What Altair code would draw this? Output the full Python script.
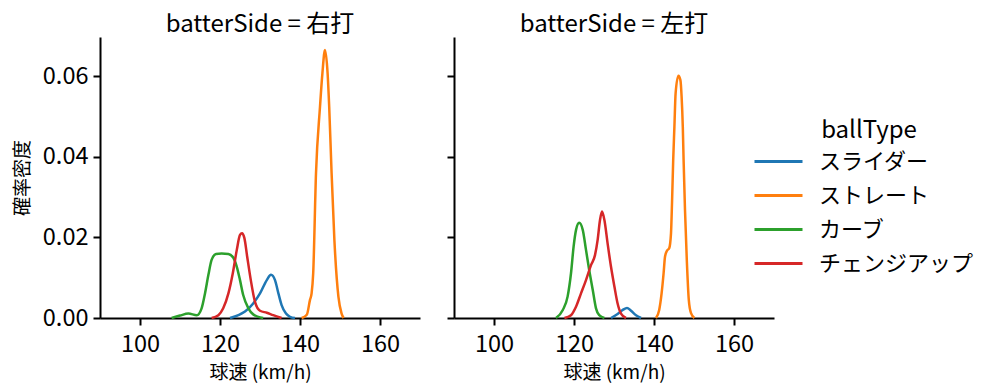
import altair as alt
import pandas as pd

FONT = "Noto Sans CJK JP"
TYPES = ["スライダー", "ストレート", "カーブ", "チェンジアップ"]
COLORS = ["#1f77b4", "#ff7f0e", "#2ca02c", "#d62728"]
SIDES = ["右打", "左打"]

# ---- 右打 (right-handed batters) ----
R_slider_x = [122.5, 124.6, 126.25, 128.3, 130.0, 131.7, 132.75, 133.75, 134.6, 135.4, 136.5, 137.5, 138.75]
R_slider_y = [0.0, 0.0007, 0.0016, 0.0036, 0.0061, 0.0094, 0.0107, 0.0094, 0.0061, 0.0032, 0.0011, 0.0003, 0.0]
R_straight_x = [140.4, 141.7, 142.5, 142.9, 143.3, 144.0, 145.0, 145.6, 146.25, 146.9, 147.3, 147.9, 148.6, 149.6, 150.4, 150.9]
R_straight_y = [0.0, 0.0008, 0.0045, 0.0061, 0.0111, 0.0359, 0.0524, 0.0607, 0.0665, 0.0607, 0.0524, 0.0359, 0.0193, 0.0053, 0.0011, 0.0]
R_curve_x = [107.9, 110.0, 112.1, 114.2, 115.4, 116.25, 117.1, 117.9, 119.0, 120.4, 122.1, 123.3, 124.2, 125.0, 125.8, 127.1, 128.3, 130.8]
R_curve_y = [0.0, 0.0006, 0.0011, 0.0007, 0.0024, 0.0061, 0.0107, 0.0144, 0.0159, 0.0160, 0.0159, 0.0150, 0.0127, 0.0094, 0.0057, 0.0024, 0.0009, 0.0]
R_change_x = [117.9, 119.6, 120.8, 122.1, 123.2, 124.2, 125.0, 125.5, 126.1, 126.8, 127.7, 128.75, 130.0, 131.7, 133.3, 135.4]
R_change_y = [0.0, 0.0007, 0.0024, 0.0061, 0.0111, 0.0169, 0.0206, 0.0210, 0.0198, 0.0152, 0.0094, 0.0040, 0.0018, 0.0013, 0.0007, 0.0]

# ---- 左打 (left-handed batters) ----
L_slider_x = [129.25, 130.9, 132.2, 133.25, 134.25, 135.5, 136.75]
L_slider_y = [0.0, 0.0010, 0.0020, 0.0025, 0.0018, 0.0007, 0.0]
L_straight_x = [140.5, 141.3, 141.9, 142.4, 142.75, 143.25, 143.8, 144.25, 144.5, 144.8, 145.1, 145.4, 146.1, 146.6, 146.9, 147.2, 147.4, 147.75, 148.2, 148.7, 149.25, 150.1]
L_straight_y = [0.0, 0.0020, 0.0061, 0.0111, 0.0152, 0.0167, 0.0173, 0.0210, 0.0284, 0.0392, 0.0474, 0.0557, 0.0601, 0.0590, 0.0549, 0.0474, 0.0392, 0.0268, 0.0144, 0.0045, 0.0012, 0.0]
L_curve_x = [115.5, 117.2, 118.4, 119.25, 119.9, 120.5, 121.3, 122.2, 123.0, 123.8, 124.7, 125.5, 126.3, 127.6]
L_curve_y = [0.0, 0.0020, 0.0053, 0.0111, 0.0177, 0.0218, 0.0236, 0.0218, 0.0169, 0.0119, 0.0069, 0.0024, 0.0007, 0.0]
L_change_x = [117.6, 119.25, 120.5, 121.75, 123.0, 124.25, 125.25, 125.9, 126.5, 127.0, 127.6, 128.4, 129.25, 130.1, 130.9, 131.75, 133.0]
L_change_y = [0.0, 0.0007, 0.0028, 0.0061, 0.0094, 0.0131, 0.0156, 0.0193, 0.0243, 0.0264, 0.0243, 0.0185, 0.0127, 0.0078, 0.0036, 0.0011, 0.0]

series = {
    "右打": [(R_slider_x, R_slider_y), (R_straight_x, R_straight_y), (R_curve_x, R_curve_y), (R_change_x, R_change_y)],
    "左打": [(L_slider_x, L_slider_y), (L_straight_x, L_straight_y), (L_curve_x, L_curve_y), (L_change_x, L_change_y)],
}

rows = []
for side, lst in series.items():
    for t, (xs, ys) in zip(TYPES, lst):
        for i, (x, y) in enumerate(zip(xs, ys)):
            rows.append({"batterSide": side, "ballType": t, "speed": x, "density": y, "i": i})
df = pd.DataFrame(rows)

color = alt.Color(
    "ballType:N",
    scale=alt.Scale(domain=TYPES, range=COLORS),
    legend=alt.Legend(
        title="ballType",
        orient="none",
        legendX=665,
        legendY=82,
        symbolType="M-2,0H2",
        symbolSize=576,
        symbolStrokeWidth=3,
        labelFontSize=22,
        titleFontSize=24,
        titleFontWeight="normal",
        titleAnchor="middle",
        titlePadding=5,
        labelOffset=27,
        rowPadding=9,
        labelFont=FONT,
        titleFont=FONT,
        labelColor="black",
        titleColor="black",
    ),
)


def panel(side, first):
    yaxis = alt.Axis(
        values=[0, 0.02, 0.04, 0.06],
        format=".2f",
        title="確率密度" if first else None,
        labels=first,
        titlePadding=10,
        labelPadding=5,
    )
    return (
        alt.Chart(df[df.batterSide == side], title=alt.TitleParams(
            f"batterSide = {side}", fontSize=24, fontWeight="normal", font=FONT,
            anchor="middle", color="black", offset=0))
        .mark_line(strokeWidth=2.5, interpolate="monotone")
        .encode(
            x=alt.X("speed:Q", scale=alt.Scale(domain=[90, 170], nice=False, zero=False),
                    axis=alt.Axis(values=[100, 120, 140, 160], title="球速 (km/h)",
                                  titlePadding=8, labelPadding=7)),
            y=alt.Y("density:Q", scale=alt.Scale(domain=[0, 0.0697], nice=False), axis=yaxis),
            color=color,
            order="i:Q",
        )
        .properties(width=320, height=281)
    )


chart = (
    alt.hconcat(panel("右打", True), panel("左打", False), spacing=26)
    .resolve_scale(y="shared")
    .configure_view(stroke=None)
    .configure_axis(
        grid=False,
        domainColor="black",
        domainWidth=2,
        tickColor="black",
        tickWidth=2,
        tickSize=7,
        labelFontSize=23.5,
        labelFont=FONT,
        labelColor="black",
        titleFont=FONT,
        titleFontSize=19,
        titleFontWeight="normal",
        titleColor="black",
    )
)

chart.save("out.html", embed_options={"renderer": "svg", "actions": False})
